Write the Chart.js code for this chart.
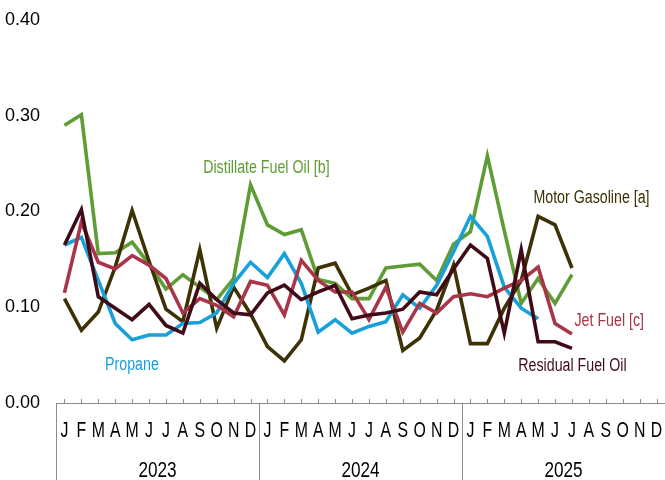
<!DOCTYPE html>
<html>
<head>
<meta charset="utf-8">
<script src="https://cdn.jsdelivr.net/npm/chart.js@4.4.1/dist/chart.umd.min.js"></script>
<style>
  html, body { margin: 0; padding: 0; background: #fff; }
  #wrap { width: 665px; height: 480px; position: relative; }
</style>
</head>
<body>
<div id="wrap"><canvas id="chart"></canvas></div>
<script>
const FONT = "'Liberation Sans', Arial, sans-serif";

// --- data ---
const years = ['2023', '2024', '2025'];
const monthLetters = ['J', 'F', 'M', 'A', 'M', 'J', 'J', 'A', 'S', 'O', 'N', 'D'];
const yTicks = [0, 0.1, 0.2, 0.3, 0.4];

const distillate = [
    0.290, 0.301, 0.156, 0.157, 0.168, 0.145, 0.119, 0.134, 0.121, 0.108, 0.130, 0.228,
    0.186, 0.176, 0.181, 0.129, 0.125, 0.109, 0.109, 0.141, 0.143, 0.145, 0.128, 0.166,
    0.179, 0.258, 0.180, 0.104, 0.130, 0.104, 0.134
];
const motorGasoline = [
    0.109, 0.076, 0.095, 0.142, 0.201, 0.148, 0.098, 0.085, 0.160, 0.078, 0.121, 0.093,
    0.059, 0.044, 0.066, 0.141, 0.146, 0.113, 0.120, 0.128, 0.055, 0.068, 0.097, 0.144,
    0.062, 0.062, 0.099, 0.128, 0.195, 0.186, 0.141
];
const propane = [
    0.165, 0.173, 0.128, 0.083, 0.066, 0.071, 0.071, 0.083, 0.084, 0.094, 0.125, 0.147,
    0.131, 0.156, 0.125, 0.074, 0.087, 0.073, 0.080, 0.085, 0.113, 0.099, 0.123, 0.158,
    0.195, 0.174, 0.121, 0.099, 0.088
];
const jetFuel = [
    0.115, 0.189, 0.147, 0.140, 0.154, 0.144, 0.130, 0.094, 0.109, 0.102, 0.090, 0.127,
    0.123, 0.092, 0.149, 0.128, 0.116, 0.116, 0.087, 0.121, 0.074, 0.104, 0.094, 0.111,
    0.114, 0.111, 0.120, 0.128, 0.142, 0.083, 0.072
];
const residual = [
    0.165, 0.202, 0.111, 0.099, 0.087, 0.103, 0.081, 0.073, 0.125, 0.108, 0.094, 0.092,
    0.115, 0.123, 0.108, 0.116, 0.123, 0.088, 0.092, 0.094, 0.098, 0.116, 0.113, 0.140,
    0.165, 0.151, 0.073, 0.160, 0.064, 0.064, 0.057
];

const labels = years.flatMap(y => monthLetters.map(m => m));

const COLORS = {
    distillate: '#5f9c35',
    motor: '#3d3105',
    propane: '#18a0da',
    jet: '#a93548',
    residual: '#3f0b17'
};

// series names placed next to the lines (x in month index, y = baseline in data units)
const seriesLabels = [
    { text: 'Distillate Fuel Oil [b]', x: 8.2, y: 0.240, color: COLORS.distillate },
    { text: 'Motor Gasoline [a]', x: 27.72, y: 0.209, color: COLORS.motor },
    { text: 'Propane', x: 2.4, y: 0.0345, color: COLORS.propane },
    { text: 'Jet Fuel [c]', x: 30.15, y: 0.080, color: COLORS.jet },
    { text: 'Residual Fuel Oil', x: 26.83, y: 0.0334, color: COLORS.residual }
];

function ds(label, data, color) {
    return {
        label, data,
        borderColor: color,
        backgroundColor: color,
        borderWidth: 3.6,
        pointRadius: 0,
        tension: 0,
        fill: false
    };
}

// texto estrecho (no hay fuente narrow instalada)
function narrowText(ctx, text, x, y, sx) {
    ctx.save();
    ctx.translate(x, y);
    ctx.scale(sx, 1);
    ctx.fillText(text, 0, 0);
    ctx.restore();
}

// eje x dibujado a mano: línea, marcas, meses, separadores de año, años
const axisPlugin = {
    id: 'axisDecor',
    afterDraw(chart) {
        const { ctx, chartArea } = chart;
        const xs = chart.scales.x;
        const ys = chart.scales.y;
        const slot = xs.getPixelForValue(1) - xs.getPixelForValue(0);
        const base = ys.getPixelForValue(0);
        ctx.save();
        ctx.strokeStyle = '#8c8c8c';
        ctx.lineWidth = 1;
        ctx.beginPath();
        ctx.moveTo(chartArea.left, base + 0.5);
        ctx.lineTo(chartArea.right, base + 0.5);
        for (let i = 0; i < labels.length; i++) {
            const px = Math.round(xs.getPixelForValue(i)) + 0.5;
            ctx.moveTo(px, base);
            ctx.lineTo(px, base - 4);
        }
        years.forEach((y, k) => {
            const px = Math.round(xs.getPixelForValue(k * 12) - slot / 2) + 0.5;
            ctx.moveTo(px, base);
            ctx.lineTo(px, chart.height);
        });
        ctx.stroke();

        ctx.fillStyle = '#000';
        ctx.textAlign = 'center';
        ctx.textBaseline = 'alphabetic';
        ctx.font = '22px ' + FONT;
        labels.forEach((m, i) => narrowText(ctx, m, xs.getPixelForValue(i), base + 34, 0.72));
        years.forEach((y, k) => {
            const mid = (xs.getPixelForValue(k * 12) + xs.getPixelForValue(k * 12 + 11)) / 2;
            narrowText(ctx, y, mid, base + 74, 0.78);
        });

        ctx.font = '18px ' + FONT;
        ctx.textAlign = 'left';
        seriesLabels.forEach(l => {
            ctx.fillStyle = l.color;
            narrowText(ctx, l.text, xs.getPixelForValue(l.x), ys.getPixelForValue(l.y), 0.79);
        });
        ctx.restore();
    }
};

const ctx = document.getElementById('chart').getContext('2d');
const chart = new Chart(ctx, {
    type: 'line',
    data: {
        labels,
        datasets: [
            ds('Residual Fuel Oil', residual, COLORS.residual),
            ds('Jet Fuel [c]', jetFuel, COLORS.jet),
            ds('Propane', propane, COLORS.propane),
            ds('Motor Gasoline [a]', motorGasoline, COLORS.motor),
            ds('Distillate Fuel Oil [b]', distillate, COLORS.distillate)
        ]
    },
    options: {
        responsive: true,
        maintainAspectRatio: false,
        animation: false,
        layout: { padding: { left: 5, right: 0, top: 20, bottom: 77 } },
        plugins: {
            legend: { display: false },
            tooltip: { enabled: false }
        },
        scales: {
            x: {
                offset: true,
                grid: { display: false, drawTicks: false },
                border: { display: false },
                ticks: { display: false }
            },
            y: {
                min: 0,
                max: 0.4,
                afterBuildTicks: (scale) => { scale.ticks = yTicks.map(v => ({ value: v })); },
                afterFit: (scale) => { scale.width = 51; },
                grid: { display: false, drawTicks: false },
                border: { display: false },
                ticks: {
                    crossAlign: 'far',
                    padding: 0,
                    color: '#000',
                    font: { family: FONT, size: 18 },
                    callback: (v) => Number(v).toFixed(2)
                }
            }
        }
    },
    plugins: [axisPlugin]
});
</script>
</body>
</html>
